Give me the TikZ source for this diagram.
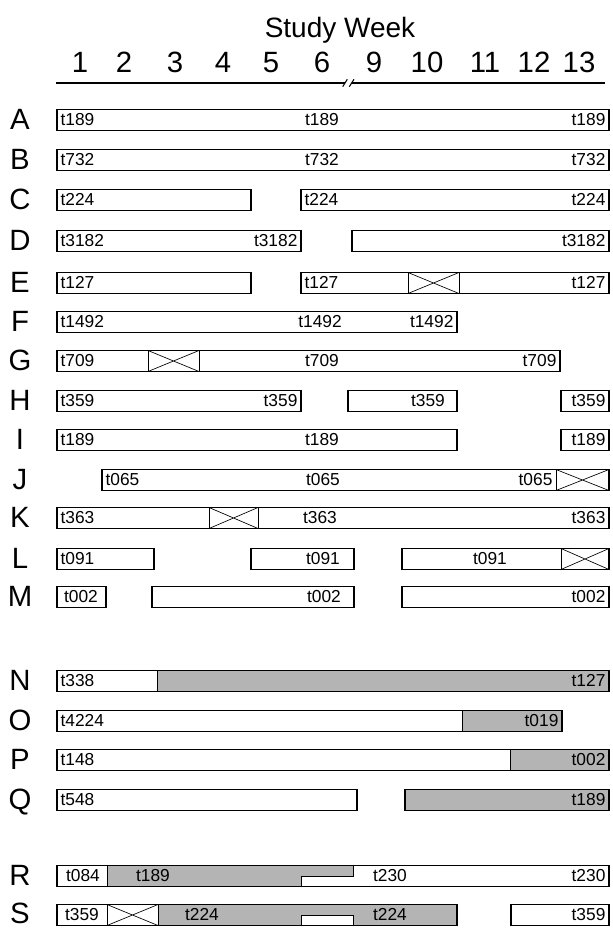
\documentclass[tikz,border=0pt]{standalone}
\usepackage{fontspec}
\setmainfont{Liberation Sans}
\usepackage{tikz}
\definecolor{bargray}{RGB}{180,180,180}

\tikzset{
  bar/.style={draw=black, line width=1pt},
  thinln/.style={draw=black, line width=0.5pt},
  shade/.style={fill=bargray, draw=black, line width=0.5pt},
  lbl/.style={font=\fontsize{13}{13}\selectfont, inner sep=2.5pt},
  lblL/.style={lbl, anchor=west},
  lblR/.style={lbl, anchor=east},
  lblC/.style={lbl, anchor=center},
  rowlab/.style={font=\fontsize{22}{22}\selectfont, anchor=base, inner sep=0pt},
  wk/.style={font=\fontsize{22}{22}\selectfont, anchor=base, inner sep=0pt},
}

\begin{document}
\begin{tikzpicture}[x=0.75pt, y=-0.75pt]
\useasboundingbox (0,0) rectangle (613,928);
% half bar height
\def\h{10.5}

% Header
\node[font=\fontsize{21}{21}\selectfont, anchor=base, inner sep=0pt] (title) at (340,37) {Study Week};
\foreach \x/\lab in {80/1, 124/2, 175/3, 223/4, 271/5, 322/6, 374/9, 427/10, 485/11, 534/12, 579/13} {
    \node[wk] (w\lab) at (\x,72) {\lab};
}

% Axis with break
\draw[line width=1.2pt] (56,83) -- (345,83);
\draw[line width=1.2pt] (351.5,83) -- (605,83);
\draw[line width=0.8pt] (342.7,86.7) -- (347.3,79.3);
\draw[line width=0.8pt] (349.3,86.7) -- (354,79.3);

% Row letters
\foreach \r/\y in {A/120, B/160, C/200, D/241, E/283, F/322, G/361, H/401, I/440, J/480, K/518, L/559, M/597, N/681, O/721, P/760, Q/800, R/876, S/914} {
    \node[rowlab] (row\r) at (20,\y+9.5) {\r};
}

% Grey segments
\draw[shade] (157,681-\h) rectangle (609,681+\h);
\draw[shade] (462,721-\h) rectangle (562,721+\h);
\draw[shade] (510,760-\h) rectangle (609,760+\h);
\draw[shade] (405,800-\h) rectangle (609,800+\h);
\draw[shade] (107,876-\h) -- (353,876-\h) -- (353,876) -- (301,876) -- (301,876+\h) -- (107,876+\h) -- cycle;
\draw[shade] (158,915-\h) rectangle (457,915+\h);
\draw[thinln, fill=white] (301,915+\h) -- (301,915) -- (353,915) -- (353,915+\h);

% Crossed-out weeks
\foreach \y/\a/\b in {283/408/459, 361/148/199, 480/556/609, 518/209/258, 559/561/609, 915/107/158} {
    \draw[thinln, fill=white] (\a,\y-\h) rectangle (\b,\y+\h);
    \draw[thinln] (\a,\y-\h) -- (\b,\y+\h) (\a,\y+\h) -- (\b,\y-\h);
}

% Bar outlines
\foreach \y/\a/\b in {120/57/609, 160/57/609, 200/57/251, 200/301/609, 241/57/301, 241/352/609,
    283/57/251, 283/301/609, 322/57/457, 361/57/560, 401/57/301, 401/348/457, 401/561/609,
    440/57/457, 440/561/609, 480/102/609, 518/57/609, 559/57/154, 559/251/354, 559/402/609,
    597/57/106, 597/152/354, 597/402/609, 681/57/609, 721/57/562, 760/57/609, 800/57/357,
    800/405/609, 876/57/609, 915/57/457, 915/511/609} {
    \draw[bar] (\a,\y-\h) rectangle (\b,\y+\h);
}

% Labels
\node[lblL] (A1) at (57,120) {t189};
\node[lblC] (A2) at (322,120) {t189};
\node[lblR] (A3) at (609,120) {t189};

\node[lblL] (B1) at (57,160) {t732};
\node[lblC] (B2) at (322,160) {t732};
\node[lblR] (B3) at (609,160) {t732};

\node[lblL] (C1) at (57,200) {t224};
\node[lblL] (C2) at (301,200) {t224};
\node[lblR] (C3) at (609,200) {t224};

\node[lblL] (D1) at (57,241) {t3182};
\node[lblR] (D2) at (301,241) {t3182};
\node[lblR] (D3) at (609,241) {t3182};

\node[lblL] (E1) at (57,283) {t127};
\node[lblL] (E2) at (301,283) {t127};
\node[lblR] (E3) at (609,283) {t127};

\node[lblL] (F1) at (57,322) {t1492};
\node[lblC] (F2) at (320,322) {t1492};
\node[lblR] (F3) at (457,322) {t1492};

\node[lblL] (G1) at (57,361) {t709};
\node[lblC] (G2) at (322,361) {t709};
\node[lblR] (G3) at (560,361) {t709};

\node[lblL] (H1) at (57,401) {t359};
\node[lblR] (H2) at (301,401) {t359};
\node[lblC] (H3) at (428,401) {t359};
\node[lblR] (H4) at (609,401) {t359};

\node[lblL] (I1) at (57,440) {t189};
\node[lblC] (I2) at (322,440) {t189};
\node[lblR] (I3) at (609,440) {t189};

\node[lblL] (J1) at (102,480) {t065};
\node[lblC] (J2) at (323,480) {t065};
\node[lblR] (J3) at (556,480) {t065};

\node[lblL] (K1) at (57,518) {t363};
\node[lblC] (K2) at (320,518) {t363};
\node[lblR] (K3) at (609,518) {t363};

\node[lblL] (L1) at (57,559) {t091};
\node[lblC] (L2) at (323,559) {t091};
\node[lblC] (L3) at (490,559) {t091};

\node[lblC] (M1) at (81,597) {t002};
\node[lblC] (M2) at (324,597) {t002};
\node[lblR] (M3) at (609,597) {t002};

\node[lblL] (N1) at (57,681) {t338};
\node[lblR] (N2) at (609,681) {t127};

\node[lblL] (O1) at (57,721) {t4224};
\node[lblR] (O2) at (562,721) {t019};

\node[lblL] (P1) at (57,760) {t148};
\node[lblR] (P2) at (609,760) {t002};

\node[lblL] (Q1) at (57,800) {t548};
\node[lblR] (Q2) at (609,800) {t189};

\node[lblC] (R1) at (83,876) {t084};
\node[lblC] (R2) at (153,876) {t189};
\node[lblC] (R3) at (390,876) {t230};
\node[lblR] (R4) at (609,876) {t230};

\node[lblC] (S1) at (82,915) {t359};
\node[lblC] (S2) at (202,915) {t224};
\node[lblC] (S3) at (390,915) {t224};
\node[lblR] (S4) at (609,915) {t359};

\end{tikzpicture}
\end{document}
